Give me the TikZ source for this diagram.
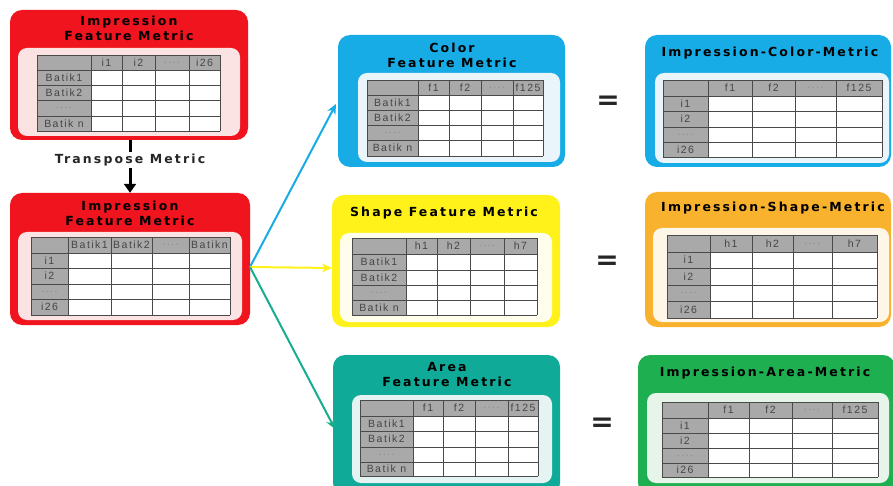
\documentclass[tikz,border=0pt]{standalone}
\usepackage{fontspec}
\setmainfont{DejaVu Sans}
\newfontfamily\ttlfont[LetterSpace=17]{DejaVu Sans}
\newfontfamily\cellfont[LetterSpace=14]{Liberation Sans}
\usetikzlibrary{arrows.meta,fit}
\definecolor{cred}{HTML}{F0141E}
\definecolor{credin}{HTML}{FBE3E3}
\definecolor{cblue}{HTML}{18ACE6}
\definecolor{cbluein}{HTML}{EAF5FB}
\definecolor{cyel}{HTML}{FFF21A}
\definecolor{cyelin}{HTML}{FFFDEB}
\definecolor{corg}{HTML}{F9B22E}
\definecolor{corgin}{HTML}{FEF6E6}
\definecolor{cteal}{HTML}{0FAA98}
\definecolor{ctealin}{HTML}{E5F4F2}
\definecolor{cgrn}{HTML}{1DAF50}
\definecolor{cgrnin}{HTML}{E6F4EA}
\definecolor{chdr}{HTML}{A9A9A9}
\definecolor{cgrid}{HTML}{4A4A4A}
\definecolor{ctxt}{HTML}{454545}
\definecolor{cdots}{HTML}{8A8A8A}
\definecolor{carrteal}{HTML}{17AE90}
\newcommand\dd{\textcolor{cdots}{....}}
\newcommand\TX[1]{\csname tbx#1\endcsname}
\newcommand\TY[1]{\csname tby#1\endcsname}
% #1 xs, #2 ys, #3 column heads, #4 row heads, #5 name prefix
\newcommand\mytable[5]{%
  \foreach \v [count=\i] in {#1} {\expandafter\xdef\csname tbx\i\endcsname{\v}}%
  \foreach \v [count=\i] in {#2} {\expandafter\xdef\csname tby\i\endcsname{\v}}%
  \fill[chdr] (\TX1,\TY1) rectangle (\TX6,\TY2);
  \fill[chdr] (\TX1,\TY2) rectangle (\TX2,\TY6);
  \fill[white] (\TX2,\TY2) rectangle (\TX6,\TY6);
  \foreach \i in {1,...,6} {%
    \draw[gridline] (\TX\i,\TY1) -- (\TX\i,\TY6);
    \draw[gridline] (\TX1,\TY\i) -- (\TX6,\TY\i);}
  \foreach \t [count=\i] in {#3} {%
    \pgfmathtruncatemacro\ia{\i+1}\pgfmathtruncatemacro\ib{\i+2}%
    \node[cell] (#5c\i) at ({(\TX\ia+\TX\ib)/2},{(\TY1+\TY2)/2}) {\t};}
  \foreach \t [count=\i] in {#4} {%
    \pgfmathtruncatemacro\ia{\i+1}\pgfmathtruncatemacro\ib{\i+2}%
    \node[cell] (#5r\i) at ({(\TX1+\TX2)/2},{(\TY\ia+\TY\ib)/2}) {\t};}
}
\tikzset{
  panel/.style={inner sep=0pt, rounded corners=12pt},
  innerpanel/.style={inner sep=0pt, rounded corners=9pt},
  ttl/.style={font=\ttlfont\bfseries\fontsize{12.5}{15}\selectfont, align=center, inner sep=0pt, text=black},
  cell/.style={font=\cellfont\fontsize{10.5}{10.5}\selectfont, text=ctxt, inner sep=0pt},
  gridline/.style={draw=cgrid, line width=0.8pt},
  eqs/.style={font=\bfseries\fontsize{28}{28}\selectfont, text=black!85, inner sep=0pt},
  colarrow/.style={line width=2pt, -{Stealth[length=10pt,width=9pt]}}
}
\begin{document}
\begin{tikzpicture}[x=1pt,y=-1pt]
\clip (0,0) rectangle (893,486);
\useasboundingbox (0,0) rectangle (893,486);
\fill[white] (0,0) rectangle (893,486);
% ---------- box 1
\node[panel, fill=cred, fit={(10,10) (248,140)}] (imp1) {};
\node[innerpanel, fill=credin, fit={(18,48) (240,136)}] (imp1i) {};
\node[ttl] (imp1t) at (129,28) {Impression\\Feature Metric};
\mytable{37,91,122,155,189,220}{55,70,85,100,116,131}{i1,i2,\dd,i26}{Batik1,Batik2,\dd,Batik n}{ta}
% ---------- transpose
\node[ttl, text=black!85, fill=white, inner ysep=2pt] (trans) at (130,160) {Transpose Metric};
% ---------- box 2
\node[panel, fill=cred, fit={(10,193) (250,325)}] (imp2) {};
\node[innerpanel, fill=credin, fit={(18,232) (242,320)}] (imp2i) {};
\node[ttl] (imp2t) at (130,213) {Impression\\Feature Metric};
\mytable{31,68,111,152,189,230}{237,253,268,284,299,315}{Batik1,Batik2,\dd,Batikn}{i1,i2,\dd,i26}{tb}
\draw[line width=3pt] (imp1.south -| trans) -- (trans.north);
\draw[line width=3pt, -{Triangle[length=9pt,width=12pt]}] (trans.south) -- (imp2.north -| trans);
% ---------- color
\node[panel, fill=cblue, fit={(338,35) (565,167)}] (col) {};
\node[innerpanel, fill=cbluein, fit={(358,73) (560,162)}] (coli) {};
\node[ttl] (colt) at (452,55) {Color\\Feature Metric};
\mytable{367,418,449,481,513,543}{80,95,110,125,140,156}{f1,f2,\dd,f125}{Batik1,Batik2,\dd,Batik n}{tc}
% ---------- impression color
\node[panel, fill=cblue, fit={(645,35) (891,167)}] (icol) {};
\node[innerpanel, fill=cbluein, fit={(655,73) (889,163)}] (icoli) {};
\node[ttl] (icolt) at (770,53) {Impression-Color-Metric};
\mytable{663,708,752,795,836,882}{80,96,111,127,142,157}{f1,f2,\dd,f125}{i1,i2,\dd,i26}{td}
% ---------- shape
\node[panel, fill=cyel, fit={(332,195) (560,327)}] (shp) {};
\node[innerpanel, fill=cyelin, fit={(340,233) (552,322)}] (shpi) {};
\node[ttl] (shpt) at (444,213) {Shape Feature Metric};
\mytable{352,406,437,470,504,537}{238,254,270,285,300,315}{h1,h2,\dd,h7}{Batik1,Batik2,\dd,Batik n}{te}
% ---------- impression shape
\node[panel, fill=corg, fit={(645,192) (891,327)}] (ishp) {};
\node[innerpanel, fill=corgin, fit={(653,228) (889,322)}] (ishpi) {};
\node[ttl] (ishpt) at (773,208) {Impression-Shape-Metric};
\mytable{667,710,752,793,832,877}{235,252,268,285,301,318}{h1,h2,\dd,h7}{i1,i2,\dd,i26}{tf}
% ---------- area
\node[panel, fill=cteal, fit={(333,355) (560,495)}] (ar) {};
\node[innerpanel, fill=ctealin, fit={(352,395) (552,483)}] (ari) {};
\node[ttl] (art) at (447,375) {Area\\Feature Metric};
\mytable{360,413,443,475,508,538}{400,416,431,447,462,476}{f1,f2,\dd,f125}{Batik1,Batik2,\dd,Batik n}{tg}
% ---------- impression area
\node[panel, fill=cgrn, fit={(638,355) (895,495)}] (iar) {};
\node[innerpanel, fill=cgrnin, fit={(647,393) (889,483)}] (iari) {};
\node[ttl] (iart) at (765,373) {Impression-Area-Metric};
\mytable{662,708,749,792,832,878}{402,418,433,448,463,477}{f1,f2,\dd,f125}{i1,i2,\dd,i26}{th}
% ---------- equals
\node[eqs] (eq1) at (608,103) {=};
\node[eqs] (eq2) at (607,263) {=};
\node[eqs] (eq3) at (602,425) {=};
% ---------- arrows
\coordinate (src) at (250,267);
\coordinate (eblue) at (336,104);
\coordinate (eyel) at (332,268);
\coordinate (eteal) at (335,429);
\draw[colarrow, cblue] (src) -- (eblue);
\draw[colarrow, cyel] (src) -- (eyel);
\draw[colarrow, carrteal] (src) -- (eteal);
\end{tikzpicture}
\end{document}
